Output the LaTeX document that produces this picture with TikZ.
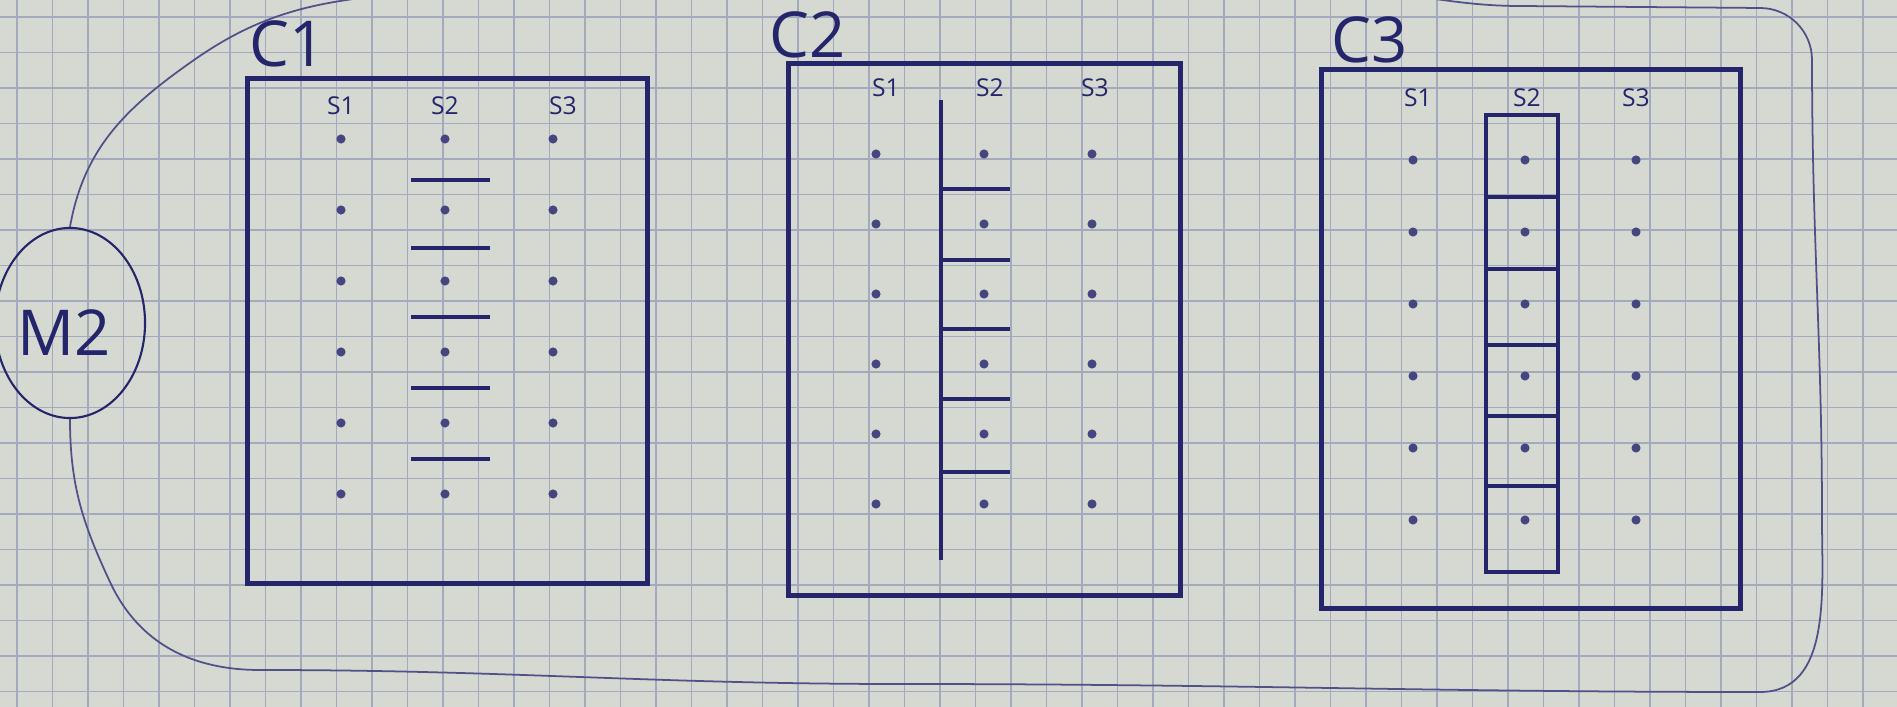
\documentclass[tikz,border=0pt]{standalone}
\usepackage{fontspec}
\setmainfont{Open Sans}
\usetikzlibrary{shapes.geometric,positioning}
\definecolor{Ink}{HTML}{24256A}
\definecolor{Paper}{HTML}{D6D9D1}
\definecolor{Grid}{HTML}{A3AABD}

\begin{document}
\begin{tikzpicture}[
  x=0.01cm,y=-0.01cm,
  cbox/.style={draw=Ink,line width=1.4pt,inner sep=0pt},
  colbox/.style={draw=Ink,line width=1.2pt,inner sep=0pt,
    minimum width=0.72cm,minimum height=4.57cm},
  sep/.style={draw=Ink,line width=1.2pt},
  spot/.style={fill=Ink!85},
  clabel/.style={text=Ink,font=\fontsize{18}{20}\selectfont,inner sep=0pt},
  slabel/.style={text=Ink,font=\fontsize{7}{8}\selectfont,inner sep=0pt},
  outline/.style={draw=Ink!80,line width=0.5pt},
  gridline/.style={draw=Grid,line width=0.35pt}
]
  % paper and grid
  \fill[Paper] (0,0) rectangle (1897,707);
  \useasboundingbox (0,0) rectangle (1897,707);
  \foreach \gx in {17,52.5,...,1897} \draw[gridline] (\gx,0) -- (\gx,707);
  \foreach \gy in {17,52.5,...,707} \draw[gridline] (0,\gy) -- (1897,\gy);

  % M2
  \node[ellipse,draw=Ink,line width=0.6pt,minimum width=1.5cm,
    minimum height=1.9cm,inner sep=0pt] (m2) at (70,323) {};
  \node[clabel] (m2lab) at (64,333) {M2};

  % C1
  \node[cbox,minimum width=3.99cm,minimum height=5.04cm] (c1) at (447.5,331) {};
  \node[clabel] (c1lab) at (288,44) {C1};
  \node[slabel] (c1s1) at (341,106) {S1};
  \node[slabel] (c1s2) at (445,106) {S2};
  \node[slabel] (c1s3) at (563,106) {S3};
  \foreach \r in {0,...,5} {
    \fill[spot] (341,139+\r*71) circle (1.3pt);
    \fill[spot] (445,139+\r*71) circle (1.3pt);
    \fill[spot] (553,139+\r*71) circle (1.3pt);
  }
  \foreach \sy in {180,248,317,388,459} \draw[sep] (411,\sy) -- (490,\sy);

  % C2
  \node[cbox,minimum width=3.91cm,minimum height=5.31cm] (c2) at (984.5,329.5) {};
  \node[clabel] (c2lab) at (808,35) {C2};
  \node[slabel] (c2s1) at (886,88) {S1};
  \node[slabel] (c2s2) at (990,88) {S2};
  \node[slabel] (c2s3) at (1095,88) {S3};
  \foreach \r in {0,...,5} {
    \fill[spot] (876,154+\r*70) circle (1.3pt);
    \fill[spot] (984,154+\r*70) circle (1.3pt);
    \fill[spot] (1092,154+\r*70) circle (1.3pt);
  }
  \draw[sep,line width=1.4pt] (941,100) -- (941,560);
  \foreach \sy in {189,260,329,399,472} \draw[sep] (941,\sy) -- (1010,\sy);

  % C3
  \node[cbox,minimum width=4.18cm,minimum height=5.38cm] (c3) at (1531,339) {};
  \node[clabel] (c3lab) at (1370,40) {C3};
  \node[slabel] (c3s1) at (1418,98) {S1};
  \node[slabel] (c3s2) at (1527,98) {S2};
  \node[slabel] (c3s3) at (1636,98) {S3};
  \node[colbox] (c3col) at (1522,343.5) {};
  \foreach \r in {0,...,5} {
    \fill[spot] (1413,160+\r*72) circle (1.3pt);
    \fill[spot] (1525,160+\r*72) circle (1.3pt);
    \fill[spot] (1636,160+\r*72) circle (1.3pt);
  }
  \foreach \sy in {197,269,345,416,486}
    \draw[sep] (c3col.west |- 0,\sy) -- (c3col.east |- 0,\sy);

  % loop round the three boxes
  \draw[outline] (m2.north) to[out=80,in=215] (194,60) to[out=35,in=185] (420,-8)
    -- (1350,-8) to[out=0,in=180] (1520,6) -- (1760,8)
    to[out=0,in=90] (1812,60) to[out=-90,in=90] (1822,520)
    to[out=-90,in=0] (1760,692) to[out=180,in=0] (900,684)
    to[out=180,in=0] (260,670) to[out=180,in=-65] (110,582)
    to[out=115,in=-90] (m2.south);
\end{tikzpicture}
\end{document}
